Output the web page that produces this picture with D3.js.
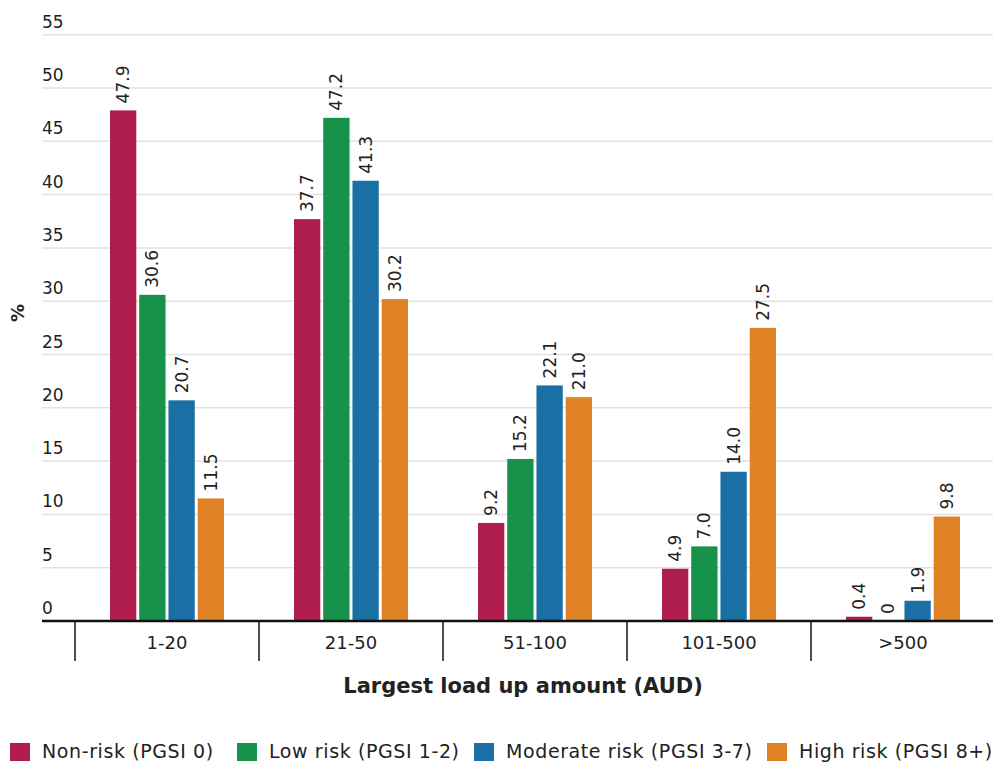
<!DOCTYPE html>
<html><head><meta charset="utf-8">
<script src="https://cdn.jsdelivr.net/npm/d3@7"></script>
<style>
body{margin:0;background:#fff;}
text{font-family:"DejaVu Sans",sans-serif;fill:#222;}
</style></head>
<body><svg id="c" width="993" height="762"></svg>
<script>
const categories = ["1-20","21-50","51-100","101-500",">500"];
const seriesNames = ["Non-risk (PGSI 0)","Low risk (PGSI 1-2)","Moderate risk (PGSI 3-7)","High risk (PGSI 8+)"];
const nonRisk = [47.9,37.7,9.2,4.9,0.4];
const lowRisk = [30.6,47.2,15.2,7.0,0];
const moderateRisk = [20.7,41.3,22.1,14.0,1.9];
const highRisk = [11.5,30.2,21.0,27.5,9.8];
const colors = ["#B01E4E","#17924A","#1A70A5","#E08326"];
const yTicks = [0,5,10,15,20,25,30,35,40,45,50,55];

const values = [nonRisk, lowRisk, moderateRisk, highRisk];
const svg = d3.select("#c");
const y = d3.scaleLinear().domain([0,55]).range([621,34.7]);
const x0 = d3.scaleBand().domain(categories).range([75,995]);
const x1 = d3.scaleBand().domain(seriesNames).range([35,149]).paddingInner(0.1);

// gridlines & tick labels
const g = svg.append("g");
g.selectAll("line.grid").data(yTicks.filter(d=>d>0)).join("line")
  .attr("x1",42).attr("x2",993).attr("y1",d=>y(d)).attr("y2",d=>y(d))
  .attr("stroke","#e2e2e2").attr("stroke-width",1.5);
g.selectAll("text.yt").data(yTicks).join("text")
  .attr("x",42).attr("y",d=>y(d)-7).attr("font-size",17).text(d=>d);

// bars
categories.forEach((c,ci)=>{
  seriesNames.forEach((s,si)=>{
    const v = values[si][ci];
    const bx = x0(c)+x1(s);
    svg.append("rect").attr("x",bx).attr("y",y(v)).attr("width",x1.bandwidth())
      .attr("height",y(0)-y(v)).attr("fill",colors[si]);
    const lx = bx + x1.bandwidth()/2, ly = y(v)-7;
    svg.append("text").attr("transform",`translate(${lx},${ly}) rotate(-90)`)
      .attr("dominant-baseline","central").attr("font-size",17)
      .text(v===0?"0":d3.format(".1f")(v));
  });
});

// x axis
svg.append("line").attr("x1",42).attr("x2",993).attr("y1",y(0)).attr("y2",y(0))
  .attr("stroke","#111").attr("stroke-width",2.5);
svg.selectAll("line.sep").data(categories).join("line")
  .attr("x1",d=>x0(d)).attr("x2",d=>x0(d)).attr("y1",y(0)).attr("y2",661)
  .attr("stroke","#111").attr("stroke-width",1.5);
svg.selectAll("text.xl").data(categories).join("text")
  .attr("x",d=>x0(d)+x0.bandwidth()/2).attr("y",649).attr("text-anchor","middle")
  .attr("font-size",18).text(d=>d);

// axis titles
svg.append("text").attr("x",523).attr("y",693).attr("text-anchor","middle")
  .attr("font-size",21).attr("font-weight","bold").text("Largest load up amount (AUD)");
svg.append("text").attr("transform","translate(24,313) rotate(-90)").attr("text-anchor","middle")
  .attr("font-size",18).attr("font-weight","bold").text("%");

// legend
const legX = [10,237,474,767];
seriesNames.forEach((s,i)=>{
  svg.append("rect").attr("x",legX[i]).attr("y",743).attr("width",20).attr("height",18).attr("fill",colors[i]);
  svg.append("text").attr("x",legX[i]+32).attr("y",758).attr("font-size",19)
    .attr("letter-spacing",0.6).text(s);
});
</script></body></html>
